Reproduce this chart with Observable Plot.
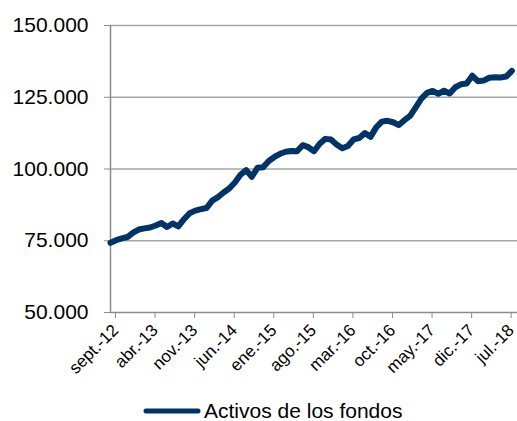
<!DOCTYPE html>
<html><head><meta charset="utf-8">
<script src="https://cdn.jsdelivr.net/npm/d3@7"></script>
<script src="https://cdn.jsdelivr.net/npm/@observablehq/plot@0.6"></script>
<style>
body{margin:0;background:#fff;font-family:"Liberation Sans",Arial,sans-serif;}
#legend{height:42px;display:flex;align-items:center;padding-left:143px;font-size:21px;color:#000;}
#legend span{margin-left:3px;}
</style>
</head><body>
<div id="chart"></div>
<div id="legend"><svg width="58" height="10"><line x1="3" y1="5" x2="55" y2="5" stroke="#003466" stroke-width="5" stroke-linecap="round"/></svg><span>Activos de los fondos</span></div>
<script>
// Monthly series, sept.-12 (index 0) to ago.-18 (index 71)
const seriesName = "Activos de los fondos";
const values = [
  74300, 75200, 75800, 76300, 77800, 78900, 79300, 79600, 80300, 81200,
  79800, 81000, 80000, 82500, 84600, 85500, 86000, 86400, 89000, 90200,
  91800, 93200, 95300, 98000, 99600, 97300, 100400, 100600, 102800, 104200,
  105300, 106000, 106300, 106200, 108300, 107600, 106200, 108800, 110500, 110300,
  108500, 107200, 108000, 110300, 110800, 112500, 111200, 114500, 116500, 116800,
  116300, 115300, 117000, 118500, 121500, 124500, 126500, 127200, 126200, 127300,
  126300, 128500, 129500, 129800, 132500, 130600, 130800, 131800, 132000, 131900,
  132200, 134200
];
const tickLabels = ["sept.-12","abr.-13","nov.-13","jun.-14","ene.-15","ago.-15","mar.-16","oct.-16","may.-17","dic.-17","jul.-18"];
const tickStep = 7;
const yTicks = [50000, 75000, 100000, 125000, 150000];

const data = values.map((v, i) => ({i, v}));
const tickPos = tickLabels.map((_, k) => k * tickStep);
const fmt = d => d3.format(",")(d).replace(/,/g, ".");

const chart = Plot.plot({
  width: 517, height: 390,
  marginLeft: 110, marginRight: 0, marginTop: 25, marginBottom: 78,
  style: {fontFamily: '"Liberation Sans", Arial, sans-serif', background: "#fff", overflow: "visible"},
  x: {domain: [0, 72]},
  y: {domain: [50000, 150000]},
  marks: [
    Plot.gridY(yTicks.slice(1), {stroke: "#a6a6a6", strokeOpacity: 1, strokeWidth: 1.5}),
    Plot.ruleY([50000], {stroke: "#8c8c8c", strokeWidth: 1.5}),
    Plot.ruleX([0], {stroke: "#8c8c8c", strokeWidth: 1.5}),
    Plot.axisY(yTicks, {tickSize: 6, tickPadding: 16, tickFormat: fmt, fontSize: 21, stroke: "#8c8c8c", fill: "#000", label: null}),
    Plot.axisX(tickPos, {tickSize: 6, tickPadding: 9, dx: 5, tickRotate: -45, tickFormat: d => tickLabels[d / tickStep], fontSize: 17, stroke: "#8c8c8c", fill: "#000", label: null}),
    Plot.line(data, {x: "i", y: "v", stroke: "#003466", strokeWidth: 6, strokeLinejoin: "round", strokeLinecap: "round"})
  ]
});
document.getElementById("chart").append(chart);
</script>
</body></html>
